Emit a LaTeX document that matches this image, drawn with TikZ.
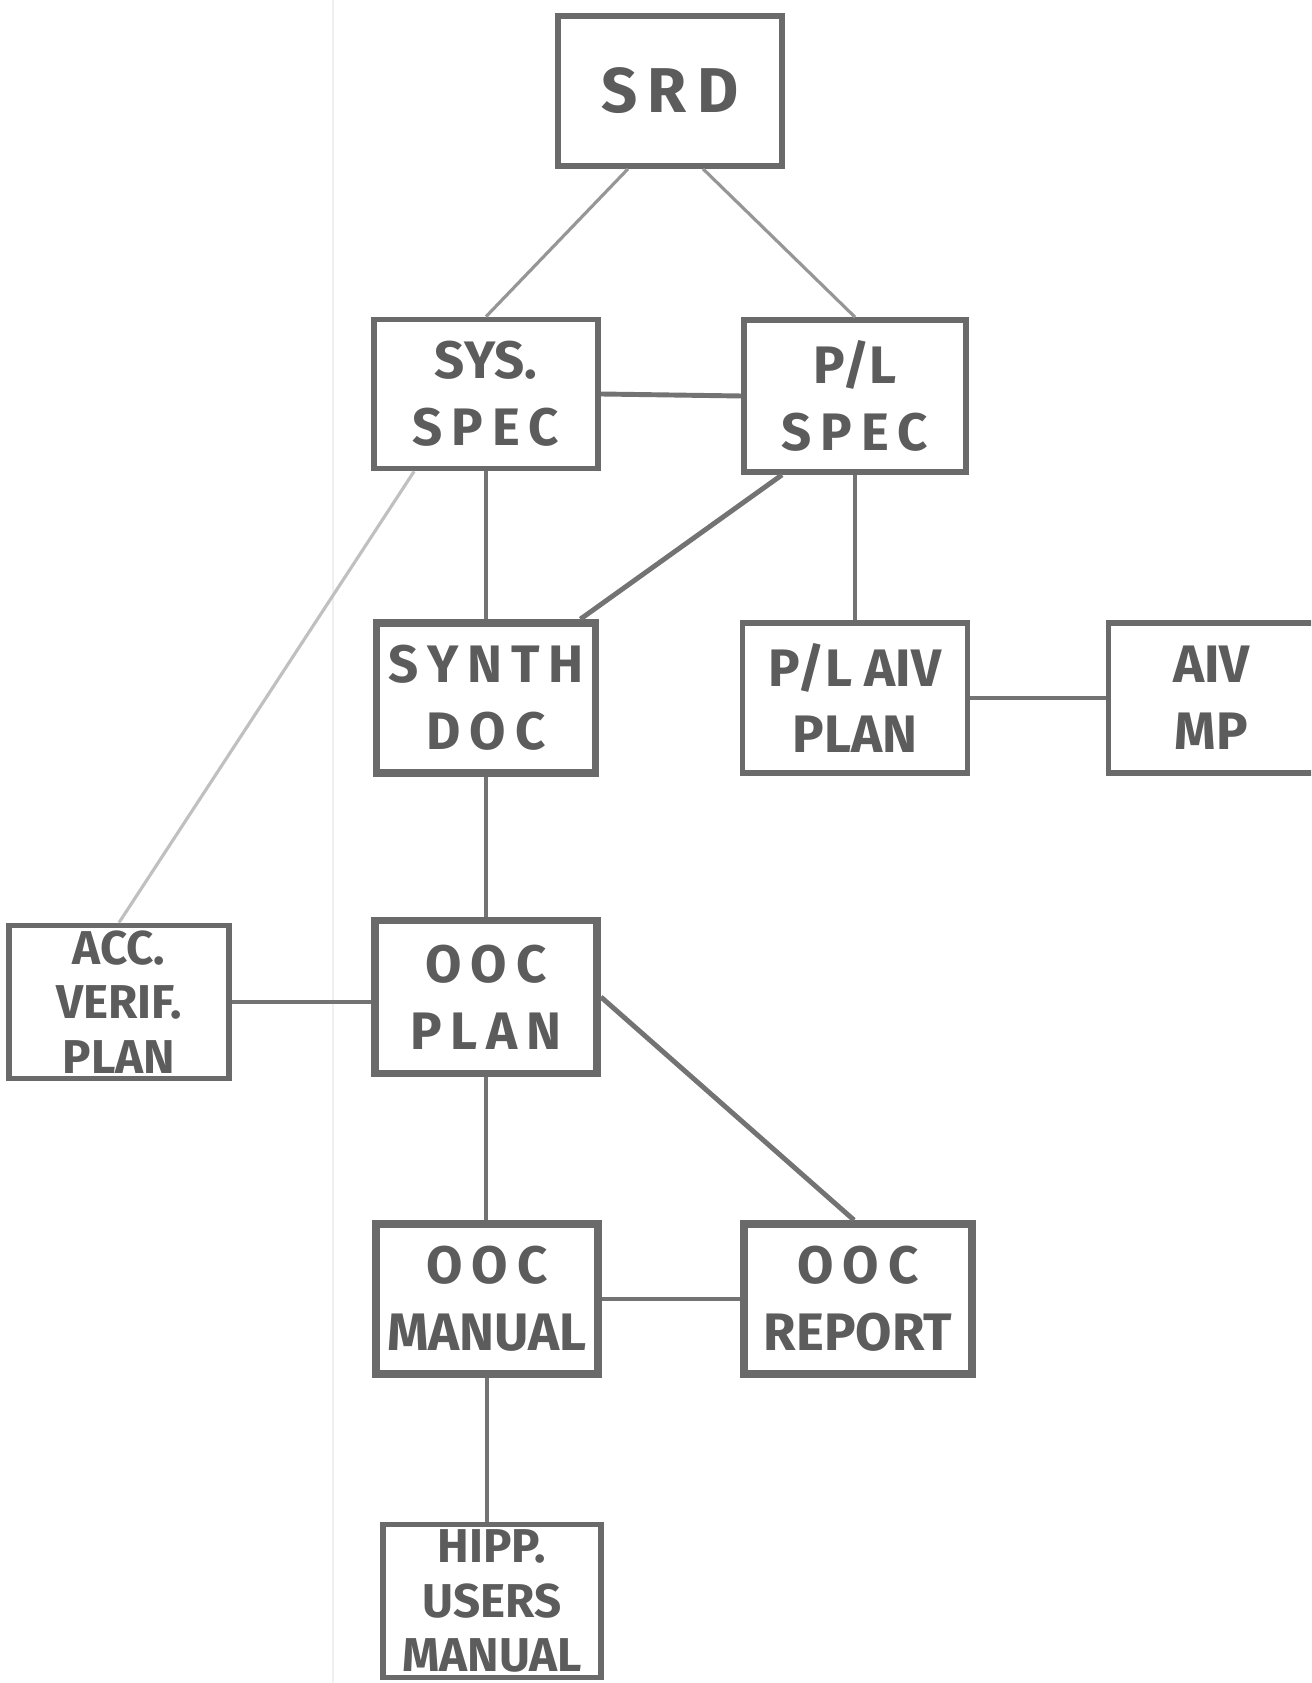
\documentclass[tikz,border=0pt]{standalone}
\usepackage{fontspec}
\setmainfont{Fira Sans}
\usetikzlibrary{calc}

\definecolor{inkgray}{HTML}{5C5C5C}
\definecolor{boxgray}{HTML}{6A6A6A}
\definecolor{linegray}{HTML}{737373}

\tikzset{
    doc/.style={draw=boxgray, line width=1.6pt, align=center, inner sep=0pt,
        text=inkgray, font=\fontsize{15}{19}\selectfont\bfseries},
    heavydoc/.style={doc, line width=2.2pt},
    tightdoc/.style={doc, font=\fontsize{13.5}{15.5}\selectfont\bfseries},
    link/.style={draw=linegray, line width=1.4pt},
    thinlink/.style={draw=linegray!75, line width=0.9pt},
    faintlink/.style={draw=linegray!45, line width=0.9pt},
}

\begin{document}
\begin{tikzpicture}[x=0.01cm, y=-0.01cm]
    \useasboundingbox (0,0) rectangle (1311,1683);
    \clip (0,0) rectangle (1311,1683);

    % paper fold
    \draw[gray!12, line width=0.5pt] (333,0) -- (333,1683);

    \node[doc, minimum width=2.24cm, minimum height=1.50cm] (srd) at (670,91)
        {\fontsize{18}{15}\selectfont S\,R\,D};
    \node[doc, minimum width=2.24cm, minimum height=1.49cm] (sys) at (486,394)
        {SYS.\\ S\,P\,E\,C};
    \node[doc, minimum width=2.22cm, minimum height=1.52cm] (pls) at (855,396)
        {P/L\\ S\,P\,E\,C};
    \node[heavydoc, minimum width=2.19cm, minimum height=1.50cm] (synth) at (486,698)
        {S\,Y\,N\,T\,H\\ D\,O\,C};
    \node[doc, minimum width=2.25cm, minimum height=1.50cm] (plaiv) at (855,698)
        {P/L AIV\\ PLAN};
    \node[doc, minimum width=2.31cm, minimum height=1.50cm] (aivmp) at (1224,698)
        {\hspace*{-0.25cm}AIV\\ \hspace*{-0.25cm}MP};
    \node[tightdoc, minimum width=2.20cm, minimum height=1.53cm] (acc) at (119,1002)
        {ACC.\\ VERIF.\\ PLAN};
    \node[heavydoc, minimum width=2.22cm, minimum height=1.53cm] (oocplan) at (486,997)
        {O\,O\,C\\ P\,L\,A\,N};
    \node[heavydoc, minimum width=2.22cm, minimum height=1.50cm] (oocman) at (487,1299)
        {O\,O\,C\\ MANUAL};
    \node[heavydoc, minimum width=2.28cm, minimum height=1.50cm] (oocrep) at (858,1299)
        {O\,O\,C\\ REPORT};
    \node[tightdoc, minimum width=2.18cm, minimum height=1.53cm] (hipp) at (492,1601)
        {HIPP.\\ USERS\\ MANUAL};

    \draw[thinlink] ($(srd.south)+(-42,0)$) -- (sys.north);
    \draw[thinlink] ($(srd.south)+(33,0)$) -- (pls.north);
    \draw[link] (sys.east) -- (pls.west);
    \draw[link] (sys.south) -- (synth.north);
    \draw[link] ($(pls.south)+(-73,0)$) -- ($(synth.north east)+(-19,0)$);
    \draw[faintlink] ($(sys.south west)+(43,0)$) -- (acc.north);
    \draw[link] (pls.south) -- (plaiv.north);
    \draw[link] (plaiv.east) -- (aivmp.west);
    \draw[link] (synth.south) -- (oocplan.north);
    \draw[link] (acc.east) -- (acc.east -| oocplan.west);
    \draw[link] (oocplan.east) -- ($(oocrep.north)+(-4,0)$);
    \draw[link] (oocplan.south) -- (oocplan.south |- oocman.north);
    \draw[link] (oocman.east) -- (oocrep.west);
    \draw[link] (oocman.south) -- (oocman.south |- hipp.north);
\end{tikzpicture}
\end{document}
